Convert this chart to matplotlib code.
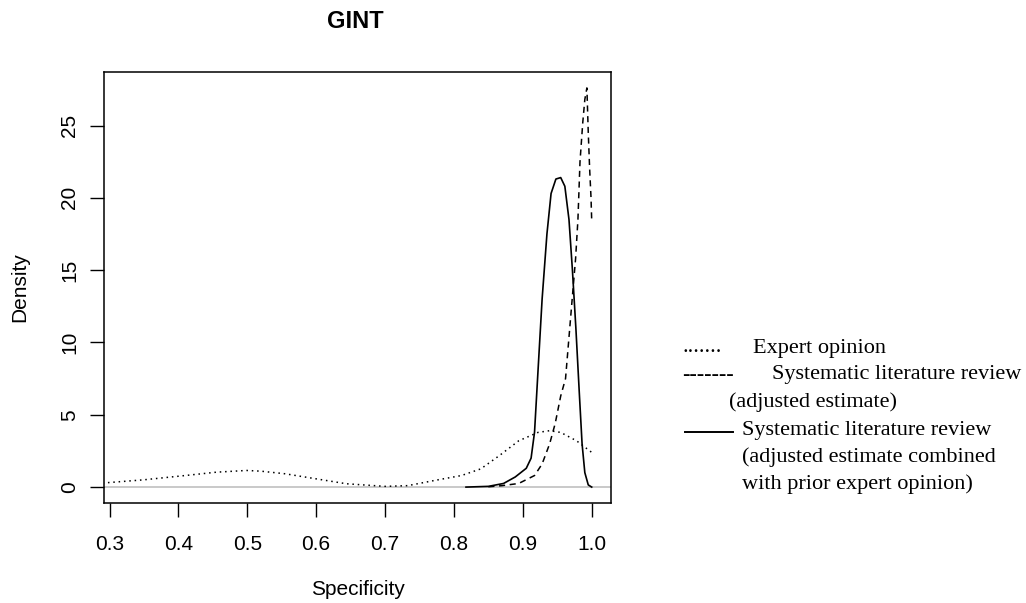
import matplotlib
matplotlib.use("Agg")
import matplotlib.pyplot as plt

# Expert opinion (dotted)
expert_x = [0.29, 0.349, 0.41, 0.455, 0.499, 0.52, 0.555, 0.60, 0.644, 0.70, 0.733,
            0.772, 0.811, 0.839, 0.866, 0.894, 0.922, 0.939, 0.955, 0.978, 1.0]
expert_y = [0.28, 0.5, 0.8, 1.03, 1.15, 1.1, 0.92, 0.57, 0.23, 0.05, 0.1,
            0.46, 0.8, 1.26, 2.18, 3.2, 3.78, 3.9, 3.78, 3.2, 2.4]

# Systematic literature review, adjusted estimate (dashed)
adj_x = [0.85, 0.87, 0.894, 0.917, 0.928, 0.939, 0.947, 0.955, 0.962, 0.969, 0.9727,
         0.9766, 0.98, 0.983, 0.987, 0.990, 0.993, 0.995, 0.997, 0.999, 1.0]
adj_y = [0.02, 0.1, 0.25, 0.8, 1.6, 3.0, 4.4, 6.3, 7.5, 11.5, 13.6,
         15.8, 18.5, 22.5, 25.2, 26.8, 27.6, 24.5, 22.0, 20.0, 18.4]

# Combined with prior expert opinion (solid)
comb_x = [0.8175, 0.85, 0.872, 0.889, 0.905, 0.912, 0.917, 0.922, 0.928, 0.935, 0.941,
          0.948, 0.955, 0.961, 0.967, 0.972, 0.977, 0.982, 0.986, 0.99, 0.995, 1.0]
comb_y = [0.0, 0.05, 0.25, 0.7, 1.3, 2.0, 3.8, 8.0, 13.0, 17.5, 20.3,
          21.3, 21.4, 20.8, 18.5, 15.0, 11.0, 6.5, 3.0, 1.0, 0.15, 0.0]

x_ticks = [0.3, 0.4, 0.5, 0.6, 0.7, 0.8, 0.9, 1.0]
x_ticklabels = ["0.3", "0.4", "0.5", "0.6", "0.7", "0.8", "0.9", "1.0"]
y_ticks = [0, 5, 10, 15, 20, 25]

plt.rcParams['font.family'] = ['Liberation Sans', 'DejaVu Sans']

fig = plt.figure(figsize=(10.26, 6.03), dpi=100)
ax = fig.add_axes([104/1026, 1 - 503/603, (611-104)/1026, (503-72)/603])

ax.axhline(0, color='#c0c0c0', lw=1.2, zorder=1)
ax.plot(expert_x, expert_y, color='black', lw=1.1, linestyle=(0, (1, 2.5)), zorder=2)
ax.plot(adj_x, adj_y, color='black', lw=1.1, linestyle=(0, (4, 3)), zorder=2)
ax.plot(comb_x, comb_y, color='black', lw=1.2, linestyle='-', zorder=3)

ax.set_xlim(0.292, 1.028)
ax.set_ylim(-1.1, 28.7)
ax.set_xticks(x_ticks)
ax.set_xticklabels(x_ticklabels)
ax.set_yticks(y_ticks)
ax.set_yticklabels([str(v) for v in y_ticks], rotation=90, va='center')
ax.tick_params(axis='both', direction='out', length=9.8, width=1.0, labelsize=15, color='black')
ax.tick_params(axis='x', pad=13)
ax.tick_params(axis='y', pad=8)
for s in ax.spines.values():
    s.set_linewidth(1.1)
    s.set_color('black')

ax.set_xlabel("Specificity", fontsize=15, labelpad=19)
ax.set_ylabel("Density", fontsize=15, labelpad=22)
fig.text(355/1026, 1 - 22/603, "GINT", fontsize=17, fontweight='bold', ha='center', va='center')

serif = ['Liberation Serif', 'DejaVu Serif']
fs = 16
fig.text(682/1026, 1 - 348/603, ".......", fontsize=fs, family=serif, ha='left', va='center')
fig.text(753/1026, 1 - 348/603, "Expert opinion", fontsize=fs, family=serif, ha='left', va='center')
fig.text(682/1026, 1 - 375/603, "-------", fontsize=fs, family=serif, ha='left', va='center')
fig.text(772/1026, 1 - 375/603, "Systematic literature review", fontsize=fs, family=serif, ha='left', va='center')
fig.text(729/1026, 1 - 402/603, "(adjusted estimate)", fontsize=fs, family=serif, ha='left', va='center')
fig.add_artist(plt.Line2D([685/1026, 733/1026], [1 - 432/603, 1 - 432/603], color='black', lw=1.4,
                          transform=fig.transFigure))
fig.text(742/1026, 1 - 430/603, "Systematic literature review", fontsize=fs, family=serif, ha='left', va='center')
fig.text(742/1026, 1 - 457/603, "(adjusted estimate combined", fontsize=fs, family=serif, ha='left', va='center')
fig.text(742/1026, 1 - 484/603, "with prior expert opinion)", fontsize=fs, family=serif, ha='left', va='center')

fig.savefig("out.png", dpi=100)
